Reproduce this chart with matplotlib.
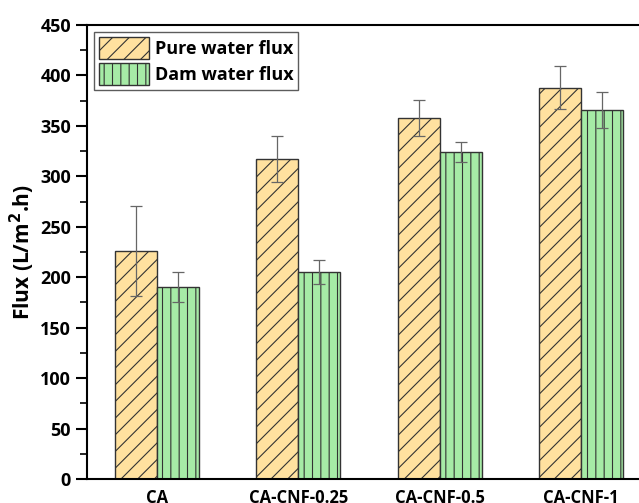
import numpy as np
import matplotlib.pyplot as plt
from matplotlib.ticker import MultipleLocator

plt.rcParams['font.family'] = ['Open Sans', 'DejaVu Sans']
plt.rcParams['font.weight'] = 'bold'
plt.rcParams['hatch.linewidth'] = 0.8

samples = ['CA', 'CA-CNF-0.25', 'CA-CNF-0.5', 'CA-CNF-1']
pure_flux = [226, 317, 358, 388]
pure_err = [45, 23, 18, 21]
dam_flux = [190, 205, 324, 366]
dam_err = [15, 12, 10, 18]

fig = plt.figure(figsize=(6.39, 5.03), dpi=100)
# axes run past the right edge, like the cropped original
ax = fig.add_axes([87 / 639, 24 / 503, 564 / 639, 454 / 503])

x = np.arange(len(samples))
w = 0.297

ax.bar(x - w / 2, pure_flux, w, color='#FFE19F', edgecolor='#333333',
       hatch='//', linewidth=1.0, label='Pure water flux')
ax.bar(x + w / 2, dam_flux, w, color='#A6EBA6', edgecolor='#333333',
       hatch='||', linewidth=1.0, label='Dam water flux')
ax.errorbar(x - w / 2, pure_flux, yerr=pure_err, fmt='none', ecolor='#666666',
            elinewidth=0.9, capsize=4, capthick=0.9)
ax.errorbar(x + w / 2, dam_flux, yerr=dam_err, fmt='none', ecolor='#666666',
            elinewidth=0.9, capsize=4, capthick=0.9)

ax.set_xlim(-0.495, 3.495)
ax.set_ylim(0, 450)
ax.yaxis.set_major_locator(MultipleLocator(50))
ax.yaxis.set_minor_locator(MultipleLocator(25))
ax.tick_params(axis='y', which='major', length=8, width=1.5, labelsize=13)
ax.tick_params(axis='y', which='minor', length=5, width=1.2)
ax.tick_params(axis='x', length=0, labelsize=12, pad=7)
ax.set_xticks(x)
ax.set_xticklabels(samples, fontweight='bold')
for lbl in ax.get_yticklabels():
    lbl.set_fontweight('bold')

for s in ax.spines.values():
    s.set_linewidth(1.5)

ax.set_ylabel('Flux (L/m$\\mathbf{^2}$.h)', fontsize=15, fontweight='bold',
              labelpad=2)

leg = ax.legend(loc='upper left', fontsize=13, frameon=True, fancybox=False,
                edgecolor='#333333', handlelength=2.8, handleheight=1.5,
                borderpad=0.25, handletextpad=0.3, borderaxespad=0.4,
                labelspacing=0.25)
leg.get_frame().set_linewidth(1.0)
for t in leg.get_texts():
    t.set_fontweight('bold')

fig.savefig('out.png', dpi=100)
